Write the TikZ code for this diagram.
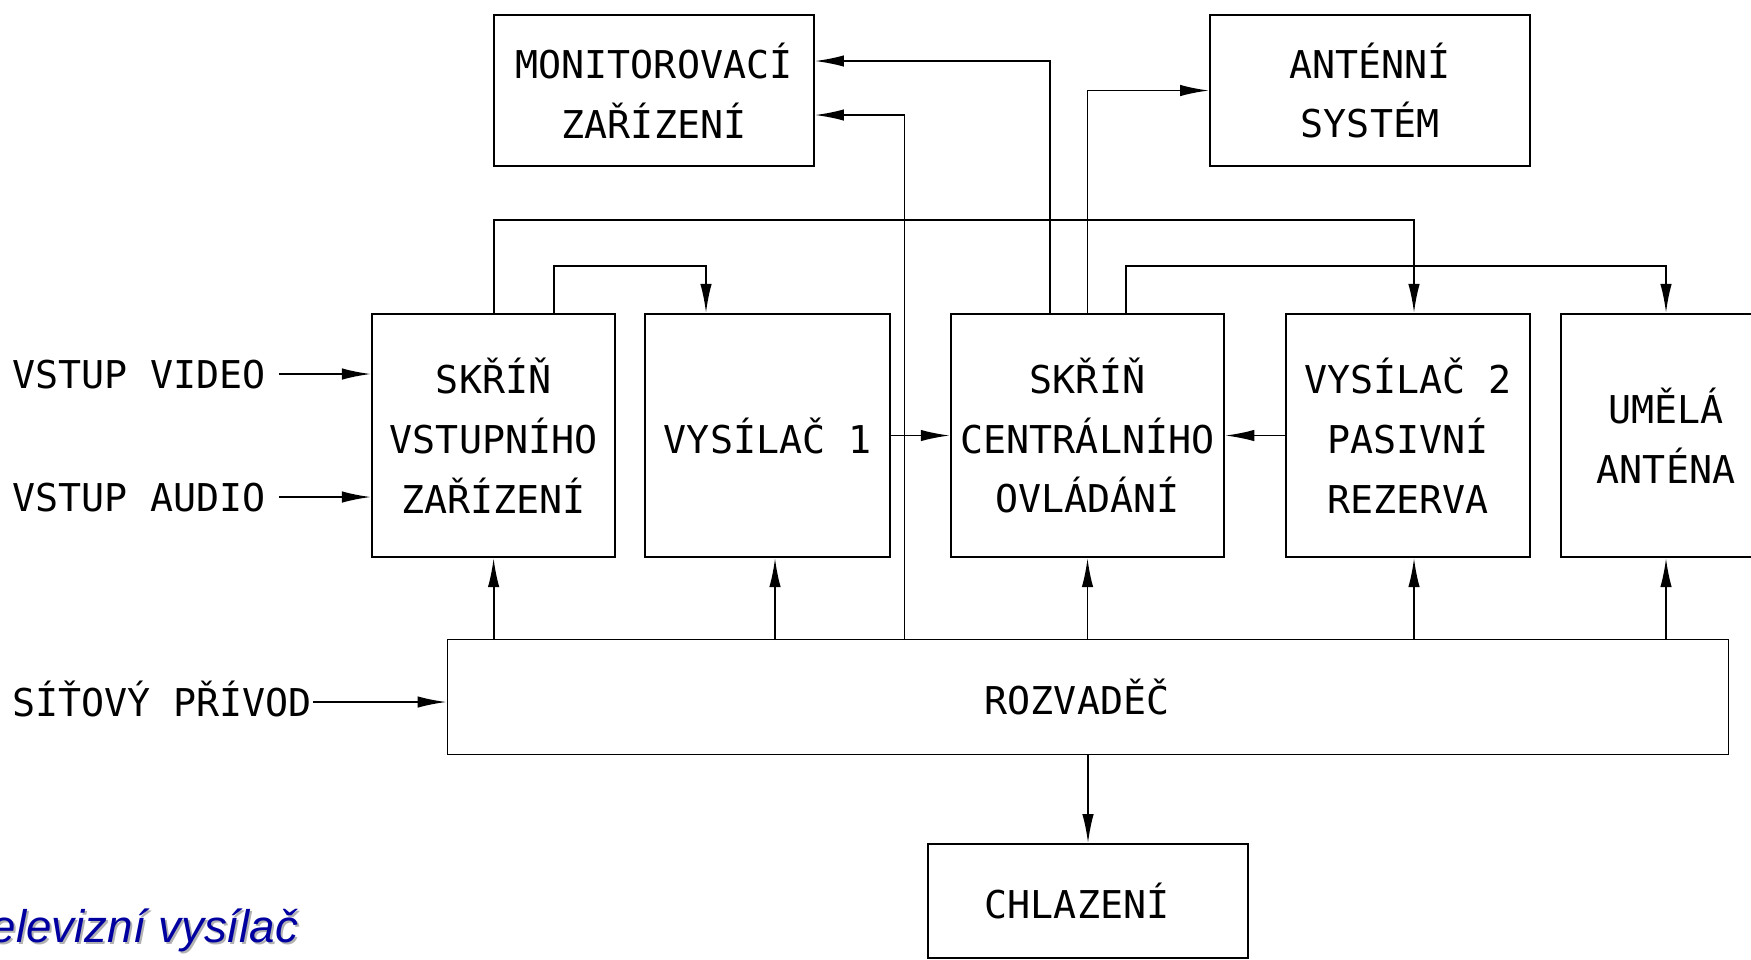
\documentclass[tikz,border=0pt]{standalone}
\usepackage{fontspec}
\usepackage{xcolor}
\usepackage{tikz}
\usetikzlibrary{arrows.meta, positioning, calc}

\newfontfamily\cadfont{DejaVu Sans Mono}
\newfontfamily\titlefont{Liberation Sans}
\definecolor{titleblue}{RGB}{0,0,160}

\begin{document}
\begin{tikzpicture}[x=0.1mm, y=-0.1mm, line width=0.55pt,
  blok/.style={draw, inner sep=0pt, align=center, minimum height=24.34mm,
    font=\cadfont\fontsize{10.9pt}{17pt}\selectfont},
  popis/.style={inner xsep=1.2mm, inner ysep=0pt, text height=2.82mm, text depth=0pt,
    font=\cadfont\fontsize{10.9pt}{17pt}\selectfont},
  sipka/.style={-{Latex[length=2.9mm,width=1.15mm]}}]

\useasboundingbox (0,0) rectangle (1751,959);

% horni rada
\node[blok, minimum width=32mm, minimum height=15.1mm] (mon) at (654,90.5) {MONITOROVACÍ\\ZAŘÍZENÍ};
\node[blok, minimum width=32mm, minimum height=15.1mm] (ant) at (1370,90.5) {ANTÉNNÍ\\SYSTÉM};

% skrine a vysilace
\node[blok, minimum width=24.34mm] (vst) at (493.6,435.5) {SKŘÍŇ\\VSTUPNÍHO\\ZAŘÍZENÍ};
\node[blok, minimum width=24.45mm] (vys1) at (767.7,435.5) {VYSÍLAČ 1};
\node[blok, minimum width=27.36mm] (cen) at (1087.5,435.5) {SKŘÍŇ\\CENTRÁLNÍHO\\OVLÁDÁNÍ};
\node[blok, minimum width=24.35mm] (vys2) at (1408,435.5) {VYSÍLAČ 2\\PASIVNÍ\\REZERVA};
\node[blok, minimum width=21mm] (uml) at (1666,435.5) {UMĚLÁ\\ANTÉNA};

% rozvadec a chlazeni
\node[blok, minimum width=128.1mm, minimum height=11.5mm] (roz) at (1088,697) {ROZVADĚČ\hspace*{2.2mm}};
\node[blok, minimum width=32mm, minimum height=11.4mm] (chl) at (1088,901) {CHLAZENÍ\hspace*{2.2mm}};

% vstupy
\node[popis, anchor=east] (vid) at (279,374) {VSTUP VIDEO};
\node[popis, anchor=east] (aud) at (279,497) {VSTUP AUDIO};
\node[popis, anchor=east, inner xsep=0pt] (sit) at (313,702) {SÍŤOVÝ PŘÍVOD};

\draw[sipka] (vid.east) -- (vid.east -| vst.west);
\draw[sipka] (aud.east) -- (aud.east -| vst.west);
\draw[sipka] (sit.east) -- (sit.east -| roz.west);

% monitorovani a antena
\draw[sipka] ([xshift=-3.75mm]cen.north) |- ([yshift=2.95mm]mon.east);
\draw[sipka] ([xshift=-18.35mm]roz.north) |- ([yshift=-2.45mm]mon.east);
\draw[sipka] (cen.north) |- (ant.west);

% ovladani vysilacu
\draw[sipka] (vst.north) -- ++(0,9.3mm) -| ([xshift=0.6mm]vys2.north);
\draw[sipka] ([xshift=6.03mm]vst.north) -- ++(0,4.7mm) -| ([xshift=-6.17mm]vys1.north);
\draw[sipka] ([xshift=3.85mm]cen.north) -- ++(0,4.7mm) -| (uml.north);

\draw[sipka] (vys1.east) -- (cen.west);
\draw[sipka] (vys2.west) -- (cen.east);

% napajeni z rozvadece
\coordinate (v1) at ([xshift=0.73mm]vys1.south);
\coordinate (v2) at ([xshift=0.6mm]vys2.south);
\foreach \cil in {vst.south, v1, cen.south, v2, uml.south}
  \draw[sipka] (\cil |- roz.north) -- (\cil);
\draw[sipka] (roz.south) -- (chl.north);

% nadpis
\node[anchor=base east, inner sep=0pt, text=black!30,
  font=\titlefont\itshape\fontsize{13pt}{15pt}\selectfont] (stin) at (301,944) {Televizní vysílač};
\node[anchor=base east, inner sep=0pt, text=titleblue,
  font=\titlefont\itshape\fontsize{13pt}{15pt}\selectfont] (nadpis) at (299,942) {Televizní vysílač};

\end{tikzpicture}
\end{document}
